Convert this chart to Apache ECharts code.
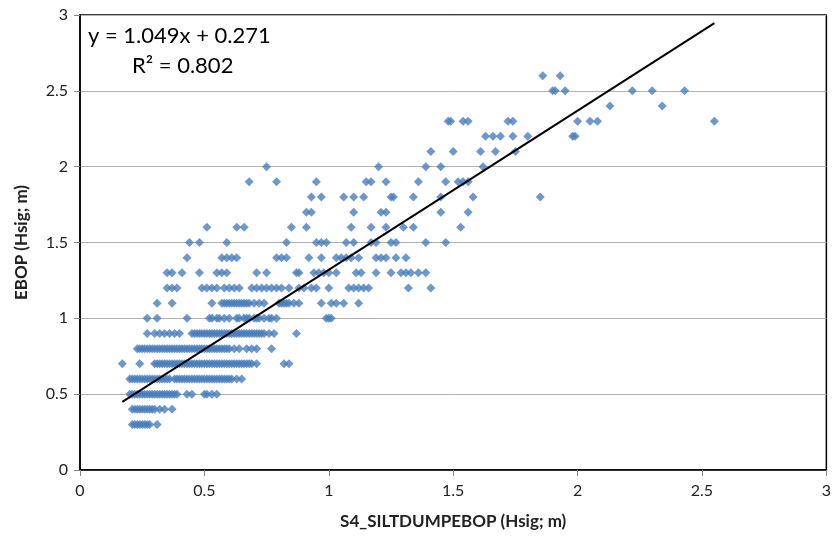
<!DOCTYPE html>
<html>
<head>
<meta charset="utf-8">
<script src="https://cdn.jsdelivr.net/npm/echarts@6/dist/echarts.min.js"></script>
<style>
html,body{margin:0;padding:0;background:#fff;}
#chart{width:834px;height:539px;}
</style>
</head>
<body>
<div id="chart"></div>
<script>
// Axis ticks
const xTicks = [0, 0.5, 1, 1.5, 2, 2.5, 3];
const yTicks = [0, 0.5, 1, 1.5, 2, 2.5, 3];

// Trendline coefficients (as printed on the chart)
const slope = 1.049;
const intercept = 0.271;
const rSquared = 0.802;

// Scatter points, grouped by EBOP value (y); each array holds the S4_SILTDUMPEBOP values (x)
const x_at_0_3 = [0.21,0.22,0.23,0.24,0.25,0.26,0.27,0.28,0.31];
const x_at_0_4 = [0.21,0.22,0.23,0.24,0.25,0.26,0.27,0.28,0.29,0.30,0.32,0.34,0.37];
const x_at_0_5 = [0.20,0.21,0.22,0.23,0.24,0.25,0.26,0.27,0.28,0.29,0.30,0.31,0.32,0.33,0.34,0.35,0.36,0.37,0.38,0.39,0.43,0.45,0.50,0.51,0.53,0.55];
const x_at_0_6 = [0.20,0.21,0.22,0.23,0.24,0.25,0.26,0.27,0.28,0.29,0.30,0.31,0.32,0.33,0.34,0.35,0.36,0.38,0.39,0.40,0.41,0.42,0.43,0.44,0.45,0.46,0.47,0.48,0.49,0.50,0.51,0.52,0.53,0.54,0.55,0.56,0.57,0.58,0.59,0.60,0.61,0.63,0.65];
const x_at_0_7 = [0.17,0.24,0.30,0.31,0.32,0.33,0.34,0.35,0.36,0.37,0.38,0.39,0.40,0.41,0.42,0.43,0.44,0.45,0.46,0.47,0.48,0.49,0.50,0.51,0.52,0.53,0.54,0.55,0.56,0.57,0.58,0.59,0.60,0.61,0.62,0.63,0.64,0.65,0.66,0.67,0.68,0.69,0.71,0.82,0.84];
const x_at_0_8 = [0.23,0.24,0.25,0.26,0.27,0.28,0.29,0.30,0.31,0.32,0.33,0.34,0.35,0.36,0.37,0.38,0.39,0.40,0.41,0.42,0.43,0.44,0.45,0.46,0.47,0.48,0.49,0.50,0.51,0.52,0.53,0.54,0.55,0.56,0.57,0.58,0.59,0.60,0.62,0.64,0.67,0.69,0.71,0.77];
const x_at_0_9 = [0.27,0.30,0.32,0.34,0.36,0.38,0.40,0.45,0.46,0.47,0.48,0.49,0.50,0.51,0.52,0.53,0.54,0.55,0.56,0.57,0.58,0.59,0.60,0.61,0.62,0.63,0.64,0.65,0.66,0.67,0.68,0.69,0.70,0.71,0.72,0.73,0.74,0.76,0.78,0.87];
const x_at_1_0 = [0.27,0.31,0.43,0.52,0.53,0.55,0.56,0.58,0.60,0.63,0.64,0.66,0.67,0.68,0.70,0.71,0.72,0.74,0.76,0.77,0.79,0.99,1.00,1.01];
const x_at_1_1 = [0.31,0.37,0.53,0.57,0.58,0.59,0.60,0.61,0.62,0.63,0.64,0.65,0.66,0.67,0.68,0.70,0.72,0.74,0.80,0.81,0.82,0.83,0.84,0.86,0.88,0.97,1.01,1.03,1.06,1.12];
const x_at_1_2 = [0.35,0.37,0.39,0.49,0.51,0.53,0.55,0.58,0.60,0.62,0.64,0.69,0.71,0.73,0.75,0.77,0.79,0.81,0.84,0.88,0.90,0.93,0.95,1.00,1.08,1.10,1.12,1.14,1.16,1.32,1.41];
const x_at_1_3 = [0.35,0.37,0.41,0.48,0.55,0.57,0.59,0.71,0.75,0.87,0.88,0.94,0.96,0.98,1.00,1.03,1.11,1.13,1.19,1.25,1.29,1.31,1.33,1.36,1.39];
const x_at_1_4 = [0.43,0.57,0.59,0.61,0.63,0.79,0.81,0.83,0.92,0.97,1.03,1.05,1.07,1.09,1.12,1.19,1.21,1.23,1.27,1.31];
const x_at_1_5 = [0.44,0.48,0.59,0.83,0.95,0.97,0.99,1.07,1.10,1.17,1.19,1.25,1.27,1.39,1.47];
const x_at_1_6 = [0.51,0.63,0.66,0.85,0.91,1.09,1.17,1.23,1.30,1.34,1.53];
const x_at_1_7 = [0.91,0.93,1.10,1.21,1.23,1.45,1.56];
const x_at_1_8 = [0.93,0.97,1.06,1.10,1.14,1.25,1.26,1.34,1.45,1.58,1.85];
const x_at_1_9 = [0.68,0.79,0.95,1.15,1.17,1.23,1.36,1.47,1.52,1.54,1.56];
const x_at_2_0 = [0.75,1.20,1.39,1.45,1.62];
const x_at_2_1 = [1.41,1.50,1.61,1.67,1.75];
const x_at_2_2 = [1.63,1.66,1.69,1.74,1.80,1.98,1.99];
const x_at_2_3 = [1.48,1.49,1.54,1.56,1.72,1.74,2.00,2.05,2.08,2.55];
const x_at_2_4 = [2.13,2.34];
const x_at_2_5 = [1.90,1.91,1.95,2.22,2.30,2.43];
const x_at_2_6 = [1.86,1.93];

const rows = [
  [0.3, x_at_0_3],[0.4, x_at_0_4],[0.5, x_at_0_5],[0.6, x_at_0_6],[0.7, x_at_0_7],
  [0.8, x_at_0_8],[0.9, x_at_0_9],[1.0, x_at_1_0],[1.1, x_at_1_1],[1.2, x_at_1_2],
  [1.3, x_at_1_3],[1.4, x_at_1_4],[1.5, x_at_1_5],[1.6, x_at_1_6],[1.7, x_at_1_7],
  [1.8, x_at_1_8],[1.9, x_at_1_9],[2.0, x_at_2_0],[2.1, x_at_2_1],[2.2, x_at_2_2],
  [2.3, x_at_2_3],[2.4, x_at_2_4],[2.5, x_at_2_5],[2.6, x_at_2_6]
];

const points = [];
rows.forEach(([y, xs]) => xs.forEach(x => points.push([x, y])));
const allX = points.map(p => p[0]);
const xMin = Math.min.apply(null, allX);
const xMax = Math.max.apply(null, allX);
const trend = [[xMin, slope * xMin + intercept], [xMax, slope * xMax + intercept]];

const FONT = 'Lato, "Open Sans", sans-serif';
const chart = echarts.init(document.getElementById('chart'), null, {renderer: 'canvas'});
chart.setOption({
  animation: false,
  backgroundColor: '#ffffff',
  grid: {left: 80, right: 5, top: 15, bottom: 69, show: true, borderColor: '#000', borderWidth: 1.5, backgroundColor: 'transparent'},
  xAxis: {
    type: 'value', min: xTicks[0], max: xTicks[xTicks.length-1], interval: 0.5,
    name: 'S4_SILTDUMPEBOP (Hsig; m)', nameLocation: 'middle', nameGap: 43,
    nameTextStyle: {fontFamily: FONT, fontSize: 17, fontWeight: 'bold', color: '#222'},
    axisLine: {show: true, lineStyle: {color: '#000', width: 1.5}},
    axisTick: {show: true, length: 6, lineStyle: {color: '#888'}},
    axisLabel: {fontFamily: FONT, fontSize: 16, color: '#222', margin: 13},
    splitLine: {show: false}
  },
  yAxis: {
    type: 'value', min: yTicks[0], max: yTicks[yTicks.length-1], interval: 0.5,
    name: 'EBOP (Hsig; m)', nameLocation: 'middle', nameGap: 50,
    nameTextStyle: {fontFamily: FONT, fontSize: 17, fontWeight: 'bold', color: '#222'},
    axisLine: {show: true, lineStyle: {color: '#000', width: 1.5}},
    axisTick: {show: true, length: 6, lineStyle: {color: '#888'}},
    axisLabel: {fontFamily: FONT, fontSize: 16, color: '#222', margin: 12},
    splitLine: {show: true, lineStyle: {color: '#b3b3b3', width: 1}}
  },
  graphic: [
    {type: 'text', left: 88, top: 25, style: {text: 'y = 1.049x + 0.271', font: '22px ' + FONT, fill: '#000'}},
    {type: 'text', left: 132, top: 55, style: {text: 'R² = ' + rSquared.toFixed(3), font: '22px ' + FONT, fill: '#000'}}
  ],
  series: [
    {type: 'scatter', data: points, symbol: 'diamond', symbolSize: [9, 9],
     itemStyle: {color: '#4a7ebb'}, z: 2},
    {type: 'line', data: trend, showSymbol: false, symbol: 'none',
     lineStyle: {color: '#000', width: 2}, z: 3}
  ]
});
</script>
</body>
</html>
